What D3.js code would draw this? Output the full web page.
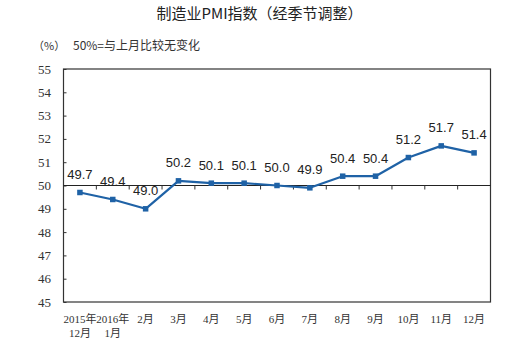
<!DOCTYPE html>
<html>
<head>
<meta charset="utf-8">
<script src="https://cdn.jsdelivr.net/npm/d3@7"></script>
<style>
  html, body { margin: 0; padding: 0; background: #fff; }
  svg { display: block; }
</style>
</head>
<body>
<script>
// Manufacturing PMI, seasonally adjusted, Dec 2015 – Dec 2016
const months = ["2015年\n12月", "2016年\n1月", "2月", "3月", "4月", "5月", "6月", "7月", "8月", "9月", "10月", "11月", "12月"];
const pmi = [49.7, 49.4, 49.0, 50.2, 50.1, 50.1, 50.0, 49.9, 50.4, 50.4, 51.2, 51.7, 51.4];
const yTicks = [45, 46, 47, 48, 49, 50, 51, 52, 53, 54, 55];
const baseline = 50;

const W = 524, H = 347;
const plot = { left: 63.5, right: 490.5, top: 69, bottom: 302 };

const svg = d3.select("body").append("svg")
  .attr("width", W).attr("height", H);

const x = d3.scaleBand().domain(months).range([plot.left, plot.right]).padding(0);
const y = d3.scaleLinear().domain([45, 55]).range([plot.bottom, plot.top]);
const cx = d => x(d) + x.bandwidth() / 2;

const serif = "'Liberation Serif', 'Times New Roman', 'Noto Sans CJK SC', serif";
const cjk = "'Noto Sans CJK SC', 'Liberation Sans', sans-serif";

// title and unit note
svg.append("text")
  .attr("x", 259.5).attr("y", 19)
  .attr("text-anchor", "middle")
  .attr("font-family", cjk).attr("font-size", 15).attr("fill", "#222")
  .text("制造业PMI指数（经季节调整）");

svg.append("text")
  .attr("x", 33).attr("y", 49.5)
  .attr("font-family", cjk).attr("font-size", 11).attr("fill", "#333")
  .text("（%）");
svg.append("text")
  .attr("x", 73).attr("y", 49.5)
  .attr("font-family", cjk).attr("font-size", 12).attr("fill", "#333")
  .text("50%=与上月比较无变化");

// plot frame
svg.append("rect")
  .attr("x", plot.left).attr("y", plot.top)
  .attr("width", plot.right - plot.left).attr("height", plot.bottom - plot.top)
  .attr("fill", "none").attr("stroke", "#333").attr("stroke-width", 1.2);

// y axis: ticks pointing into the plot
const yAxis = svg.append("g")
  .attr("transform", `translate(${plot.left},0)`)
  .call(d3.axisRight(y).tickValues(yTicks).tickSize(3).tickFormat(""));
yAxis.select(".domain").remove();
yAxis.selectAll("line").attr("stroke", "#333");

svg.append("g").selectAll("text")
  .data(yTicks).join("text")
  .attr("x", 51).attr("y", d => y(d) + 4.5)
  .attr("text-anchor", "end")
  .attr("font-family", serif).attr("font-size", 13).attr("fill", "#333")
  .text(d => d);

// category axis drawn along the 50 line, ticks at band boundaries
const xAxis = svg.append("g")
  .attr("transform", `translate(0,${y(baseline)})`);
xAxis.append("line")
  .attr("x1", plot.left).attr("x2", plot.right)
  .attr("stroke", "#222").attr("stroke-width", 1.2);
xAxis.selectAll("line.tick")
  .data(months.slice(1)).join("line")
  .attr("class", "tick")
  .attr("x1", d => x(d)).attr("x2", d => x(d))
  .attr("y1", 0).attr("y2", 4)
  .attr("stroke", "#333");

// category labels below the frame
const lab = svg.append("g").selectAll("text")
  .data(months).join("text")
  .attr("text-anchor", "middle")
  .attr("font-family", serif).attr("font-size", 11).attr("fill", "#333")
  .attr("transform", d => `translate(${cx(d)},${plot.bottom + 21})`);
lab.each(function(d) {
  const lines = d.split("\n");
  d3.select(this).selectAll("tspan").data(lines).join("tspan")
    .attr("x", 0).attr("dy", (l, i) => i === 0 ? 0 : 14)
    .text(l => l);
});

// series line and markers
const color = "#1f62a6";
const pts = months.map((m, i) => ({ m, v: pmi[i] }));
svg.append("path")
  .datum(pts)
  .attr("fill", "none").attr("stroke", color).attr("stroke-width", 2.2)
  .attr("stroke-linejoin", "round")
  .attr("d", d3.line().x(d => cx(d.m)).y(d => y(d.v)));

svg.append("g").selectAll("rect")
  .data(pts).join("rect")
  .attr("x", d => cx(d.m) - 2.75).attr("y", d => y(d.v) - 2.75)
  .attr("width", 5.5).attr("height", 5.5)
  .attr("fill", color);

// value labels
svg.append("g").selectAll("text")
  .data(pts).join("text")
  .attr("x", d => cx(d.m)).attr("y", d => y(d.v) - 13.5)
  .attr("text-anchor", "middle")
  .attr("font-family", "'Liberation Sans', Arial, sans-serif")
  .attr("font-size", 13).attr("fill", "#222")
  .text(d => d.v.toFixed(1));
</script>
</body>
</html>
